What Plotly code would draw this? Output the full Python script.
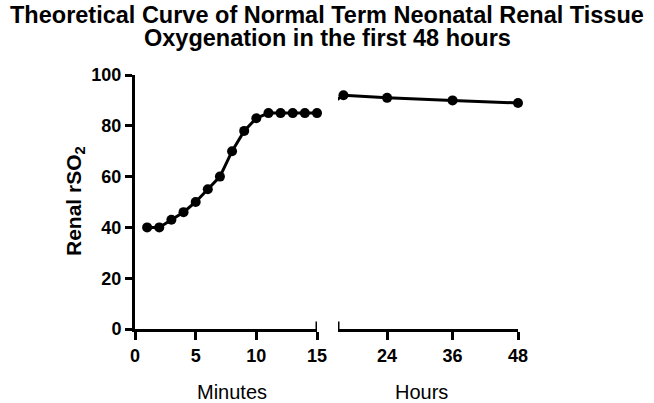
import plotly.graph_objects as go

minutes = [1, 2, 3, 4, 5, 6, 7, 8, 9, 10, 11, 12, 13, 14, 15]
minutes_rso2 = [40, 40, 43, 46, 50, 55, 60, 70, 78, 83, 85, 85, 85, 85, 85]
hours = [16, 24, 36, 48]
hours_rso2 = [92, 91, 90, 89]
minute_ticks = [0, 5, 10, 15]
hour_ticks = [24, 36, 48]
y_ticks = [0, 20, 40, 60, 80, 100]
title_lines = ["Theoretical Curve of Normal Term Neonatal Renal Tissue",
               "Oxygenation in the first 48 hours"]

FONT = "Liberation Sans, Arial, sans-serif"
L, R, T, B = 135, 518, 75, 329
W = R - L
H = B - T


def px(x):
    return (x - L) / W


def py(y):
    return (B - y) / H


fig = go.Figure()
fig.add_trace(go.Scatter(
    x=minutes, y=minutes_rso2, mode="lines+markers", xaxis="x", yaxis="y",
    line=dict(color="black", width=3), marker=dict(color="black", size=10),
    cliponaxis=False, showlegend=False))
# connector across the axis break (clipped by the hours subplot)
fig.add_trace(go.Scatter(
    x=[15 - 21 / 5.45, hours[0]], y=[minutes_rso2[-1], hours_rso2[0]],
    mode="lines", xaxis="x2", yaxis="y",
    line=dict(color="black", width=3), showlegend=False, hoverinfo="skip"))
fig.add_trace(go.Scatter(
    x=hours, y=hours_rso2, mode="lines+markers", xaxis="x2", yaxis="y",
    line=dict(color="black", width=3), marker=dict(color="black", size=10),
    cliponaxis=False, showlegend=False))

axis_common = dict(showline=True, linecolor="black", linewidth=3, ticks="outside",
                   tickwidth=3, tickcolor="black", showgrid=False, automargin=False,
                   zeroline=False, tickfont=dict(family=FONT, size=18, color="black", weight="bold"))

fig.update_layout(
    width=654, height=403,
    margin=dict(l=L, r=654 - R, t=T, b=403 - B),
    paper_bgcolor="white", plot_bgcolor="white",
    xaxis=dict(domain=[0, (317 - L) / W], range=[0, 15], tickvals=minute_ticks,
               ticklen=8, anchor="y", **axis_common),
    xaxis2=dict(domain=[(338 - L) / W, 1], range=[15, 48], tickvals=hour_ticks,
                ticklen=8, anchor="y", **axis_common),
    yaxis=dict(range=[0, 100], tickvals=y_ticks, ticklen=7, **axis_common),
    shapes=[
        dict(type="line", xref="x", yref="y", x0=15, x1=15, y0=-3, y1=3,
             line=dict(color="black", width=3)),
        dict(type="line", xref="x2", yref="y", x0=15, x1=15, y0=-3, y1=3,
             line=dict(color="black", width=3)),
    ],
    annotations=[
        dict(text="<b>" + title_lines[0] + "</b>",
             xref="paper", yref="paper", x=px(327), y=py(15), xanchor="center", yanchor="middle",
             showarrow=False, font=dict(family=FONT, size=23.5, color="black")),
        dict(text="<b>" + title_lines[1] + "</b>",
             xref="paper", yref="paper", x=px(327), y=py(38), xanchor="center", yanchor="middle",
             showarrow=False, font=dict(family=FONT, size=23.5, color="black")),
        dict(text="<b>Renal rSO<sub>2</sub></b>", textangle=-90,
             xref="paper", yref="paper", x=px(75), y=py(201), xanchor="center", yanchor="middle",
             showarrow=False, font=dict(family=FONT, size=21, color="black")),
        dict(text="Minutes", xref="paper", yref="paper", x=px(232), y=py(392),
             xanchor="center", yanchor="middle", showarrow=False,
             font=dict(family=FONT, size=20, color="black")),
        dict(text="Hours", xref="paper", yref="paper", x=px(421), y=py(392),
             xanchor="center", yanchor="middle", showarrow=False,
             font=dict(family=FONT, size=20, color="black")),
    ],
)

fig.write_html("out.html", config={"displayModeBar": False},
               post_script="document.body.style.margin='0';document.body.style.overflow='hidden';")
